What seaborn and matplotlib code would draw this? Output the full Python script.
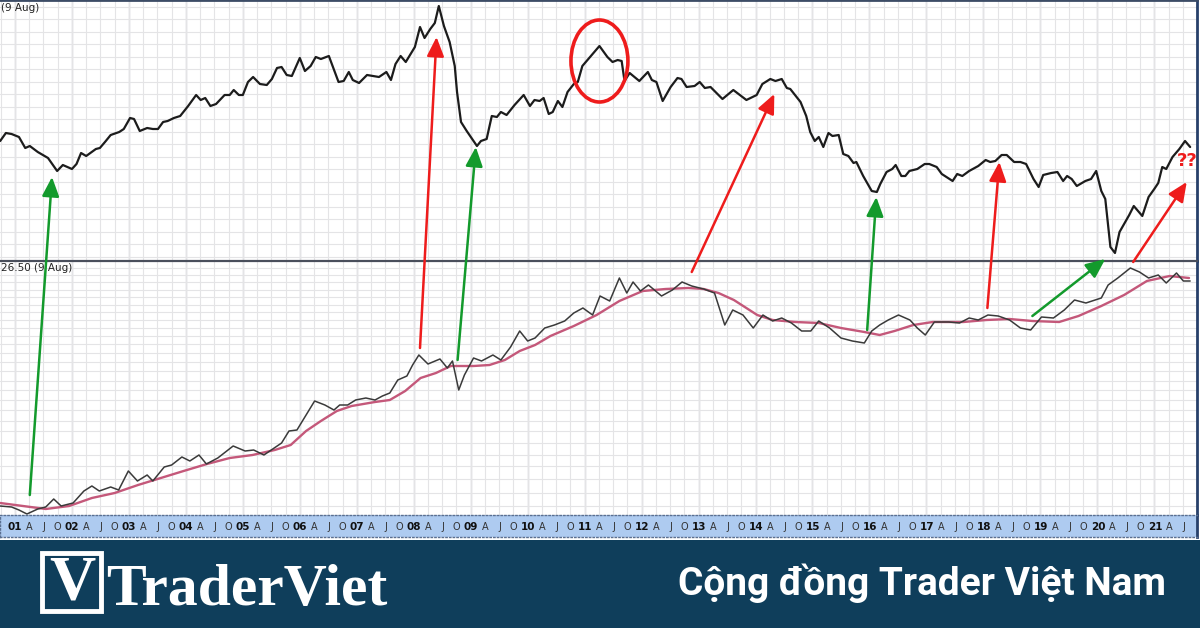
import matplotlib
matplotlib.use("Agg")
import matplotlib.pyplot as plt
import numpy as np
import pandas as pd
import seaborn as sns
from matplotlib.patches import ConnectionPatch, Ellipse, Rectangle

sns.set_theme(style="white")
plt.rcParams["font.family"] = ["DejaVu Sans"]

# top panel (ratio), chart height units
top_dates = [2000.74, 2000.84, 2000.94, 2001.07, 2001.18, 2001.26, 2001.40, 2001.58, 2001.74, 2001.84,
             2002.00, 2002.08, 2002.16, 2002.25, 2002.42, 2002.49, 2002.58, 2002.68, 2002.83, 2002.91,
             2003.02, 2003.09, 2003.19, 2003.32, 2003.42, 2003.51, 2003.60, 2003.68, 2003.79, 2003.90,
             2004.04, 2004.18, 2004.26, 2004.34, 2004.43, 2004.53, 2004.68, 2004.77, 2004.84, 2004.93,
             2005.00, 2005.09, 2005.18, 2005.30, 2005.42, 2005.51, 2005.60, 2005.68, 2005.77, 2005.86,
             2006.00, 2006.09, 2006.19, 2006.28, 2006.37, 2006.51, 2006.68, 2006.77, 2006.86, 2006.93,
             2007.04, 2007.18, 2007.28, 2007.39, 2007.52, 2007.60, 2007.68, 2007.77, 2007.86, 2008.02,
             2008.11, 2008.19, 2008.29, 2008.37, 2008.44, 2008.53, 2008.63, 2008.72, 2008.76, 2008.83,
             2008.93, 2009.11, 2009.18, 2009.28, 2009.37, 2009.46, 2009.53, 2009.63, 2009.77, 2009.93,
             2010.04, 2010.12, 2010.21, 2010.28, 2010.37, 2010.44, 2010.53, 2010.61, 2010.70, 2010.81,
             2010.88, 2010.96, 2011.11, 2011.26, 2011.40, 2011.49, 2011.58, 2011.65, 2011.70, 2011.79,
             2011.96, 2012.11, 2012.18, 2012.26, 2012.37, 2012.51, 2012.63, 2012.70, 2012.79, 2012.93,
             2013.02, 2013.11, 2013.21, 2013.42, 2013.61, 2013.84, 2014.02, 2014.12, 2014.26, 2014.35,
             2014.46, 2014.55, 2014.61, 2014.79, 2014.89, 2014.96, 2015.04, 2015.11, 2015.19, 2015.28,
             2015.35, 2015.46, 2015.54, 2015.63, 2015.72, 2015.77, 2015.89, 2016.04, 2016.13, 2016.19,
             2016.30, 2016.40, 2016.46, 2016.56, 2016.63, 2016.70, 2016.84, 2016.97, 2017.05, 2017.18,
             2017.27, 2017.46, 2017.54, 2017.63, 2017.75, 2017.91, 2018.04, 2018.12, 2018.21, 2018.32,
             2018.41, 2018.54, 2018.65, 2018.75, 2018.88, 2018.97, 2019.05, 2019.19, 2019.30, 2019.40,
             2019.47, 2019.55, 2019.64, 2019.79, 2019.89, 2019.98, 2020.07, 2020.14, 2020.23, 2020.31,
             2020.39, 2020.47, 2020.56, 2020.64, 2020.73, 2020.79, 2020.90, 2021.00, 2021.07, 2021.14,
             2021.21, 2021.32, 2021.44, 2021.54, 2021.63]
top_vals = [120, 128, 127, 124, 113, 115, 109, 103, 90, 96,
            92, 97, 108, 105, 112, 113, 119, 126, 129, 132,
            143, 142, 130, 133, 132, 132, 139, 140, 143, 145,
            155, 166, 161, 163, 155, 157, 166, 166, 171, 166,
            166, 179, 184, 177, 176, 182, 193, 194, 186, 185,
            203, 190, 195, 204, 202, 205, 179, 180, 189, 181,
            178, 186, 185, 184, 189, 181, 197, 205, 199, 214,
            234, 223, 232, 238, 255, 235, 219, 195, 169, 139,
            130, 115, 120, 122, 145, 144, 149, 146, 156, 166,
            155, 161, 160, 163, 147, 149, 160, 154, 169, 177,
            179, 195, 205, 215, 204, 199, 201, 200, 180, 188,
            180, 189, 181, 179, 160, 174, 183, 182, 174, 175,
            179, 173, 174, 162, 171, 161, 166, 177, 182, 180,
            182, 173, 172, 159, 145, 129, 120, 124, 114, 128,
            125, 126, 107, 105, 98, 99, 85, 70, 69, 77,
            89, 92, 96, 85, 85, 90, 92, 97, 97, 94,
            87, 80, 87, 85, 90, 95, 101, 99, 100, 106,
            106, 99, 99, 97, 82, 74, 86, 88, 89, 80,
            85, 82, 75, 80, 82, 90, 70, 62, 14, 8,
            29, 37, 46, 55, 49, 45, 64, 72, 78, 94,
            92, 104, 112, 120, 114]

# bottom panel (price) and its moving average
bot_dates = [2000.74, 2000.94, 2001.07, 2001.21, 2001.40, 2001.54, 2001.68, 2001.81, 2002.02, 2002.21,
             2002.35, 2002.48, 2002.68, 2002.82, 2002.99, 2003.15, 2003.32, 2003.42, 2003.62, 2003.75,
             2003.93, 2004.07, 2004.23, 2004.36, 2004.56, 2004.83, 2005.04, 2005.19, 2005.37, 2005.50,
             2005.68, 2005.81, 2005.95, 2006.11, 2006.26, 2006.44, 2006.60, 2006.70, 2006.84, 2006.98,
             2007.16, 2007.32, 2007.45, 2007.58, 2007.72, 2007.88, 2007.98, 2008.09, 2008.25, 2008.46,
             2008.59, 2008.68, 2008.79, 2008.89, 2009.05, 2009.19, 2009.39, 2009.53, 2009.70, 2009.86,
             2010.00, 2010.13, 2010.30, 2010.47, 2010.65, 2010.81, 2010.97, 2011.14, 2011.27, 2011.44,
             2011.61, 2011.74, 2011.85, 2011.98, 2012.12, 2012.35, 2012.54, 2012.71, 2012.88, 2013.09,
             2013.28, 2013.46, 2013.60, 2013.78, 2013.96, 2014.13, 2014.30, 2014.46, 2014.63, 2014.81,
             2014.97, 2015.11, 2015.30, 2015.50, 2015.70, 2015.91, 2016.04, 2016.18, 2016.33, 2016.51,
             2016.71, 2016.84, 2016.98, 2017.14, 2017.39, 2017.58, 2017.75, 2017.91, 2018.08, 2018.26,
             2018.46, 2018.65, 2018.83, 2019.02, 2019.23, 2019.42, 2019.60, 2019.80, 2020.07, 2020.19,
             2020.36, 2020.58, 2020.74, 2020.90, 2021.07, 2021.21, 2021.39, 2021.51, 2021.63]
bot_vals = [9, 8, 5, 1, 6, 8, 16, 9, 12, 24,
            29, 24, 28, 25, 44, 34, 40, 34, 48, 50,
            58, 54, 60, 51, 57, 69, 64, 65, 60, 65,
            72, 84, 85, 100, 114, 110, 105, 110, 110, 115,
            117, 115, 119, 122, 135, 139, 150, 160, 151, 156,
            147, 154, 125, 140, 157, 154, 160, 155, 168, 184,
            174, 177, 187, 190, 194, 202, 207, 200, 219, 214,
            237, 222, 233, 224, 230, 219, 225, 233, 229, 226,
            222, 190, 205, 200, 187, 200, 194, 197, 192, 184,
            184, 194, 187, 177, 174, 172, 184, 190, 195, 200,
            195, 187, 180, 193, 193, 192, 197, 195, 200, 199,
            195, 187, 185, 198, 197, 205, 215, 212, 217, 230,
            237, 247, 243, 237, 240, 232, 242, 234, 234]
ma_dates = [2000.74, 2001.14, 2001.54, 2001.95, 2002.35, 2002.75, 2003.16, 2003.56, 2003.96, 2004.37,
            2004.77, 2005.17, 2005.56, 2005.84, 2006.11, 2006.37, 2006.65, 2006.91, 2007.32, 2007.58,
            2007.85, 2008.12, 2008.39, 2008.65, 2009.05, 2009.33, 2009.60, 2009.86, 2010.13, 2010.40,
            2010.81, 2011.21, 2011.61, 2012.02, 2012.42, 2012.82, 2013.09, 2013.35, 2013.62, 2014.03,
            2014.30, 2014.70, 2015.11, 2015.50, 2015.91, 2016.18, 2016.44, 2016.77, 2017.11, 2017.65,
            2018.05, 2018.46, 2018.86, 2019.33, 2019.67, 2020.07, 2020.47, 2020.87, 2021.27, 2021.61]
ma_vals = [12, 9, 6, 9, 17, 22, 30, 37, 44, 51,
           57, 60, 65, 70, 84, 94, 104, 109, 113, 115,
           124, 137, 142, 149, 149, 150, 155, 164, 170, 179,
           189, 200, 214, 224, 226, 227, 226, 222, 215, 200,
           195, 193, 192, 187, 183, 180, 184, 190, 193, 193,
           195, 196, 194, 193, 199, 209, 220, 234, 239, 237]

# arrows: (start date, start value, start panel, end date, end value, end panel, colour)
arrows = [
    (2001.26, 20, "bot", 2001.65, 84, "top", "g"),
    (2008.11, 167, "bot", 2008.40, 224, "top", "r"),
    (2008.77, 155, "bot", 2009.09, 114, "top", "g"),
    (2012.88, 243, "bot", 2014.33, 167, "top", "r"),
    (2015.96, 185, "bot", 2016.12, 64, "top", "g"),
    (2018.07, 207, "bot", 2018.28, 99, "top", "r"),
    (2018.86, 199, "bot", 2020.14, 256, "bot", "g"),
    (2020.63, 253, "bot", 2021.57, 79, "top", "r"),
]
years = list(range(2001, 2022))

RED = "#ee1c1c"
GREEN = "#139a2c"

fig = plt.figure(figsize=(12, 6.28), dpi=100)
fig.patch.set_facecolor("white")
W, H = 1200, 628
x0, x1 = 2000.737, 2021.737

ax_top = fig.add_axes([0, (H - 261) / H, 1197 / W, 261 / H])
ax_bot = fig.add_axes([0, (H - 515) / H, 1197 / W, 254 / H])
ax_band = fig.add_axes([0, (H - 537) / H, 1197 / W, 22 / H])
ax_ban = fig.add_axes([0, 0, 1, 88 / H])

quarters = np.arange(2000.75, 2021.76, 0.25)

for ax, ylim in [(ax_top, (0, 261)), (ax_bot, (0, 254))]:
    ax.set_xlim(x0, x1)
    ax.set_ylim(*ylim)
    ax.set_xticks(quarters)
    ax.tick_params(length=0, labelbottom=False, labelleft=False)
    ax.grid(True, color="#e4e4e6", lw=0.8)
    for yr in years:
        ax.axvline(yr, color="#c2c5cc", lw=1.0, zorder=0.5)
    for s in ax.spines.values():
        s.set_visible(False)

ax_top.set_yticks(np.arange(4.5, 261, 12.5))
ax_bot.set_yticks([9, 22, 36, 49, 60, 72, 84, 94, 105, 115, 125, 134, 144, 153, 162,
                   171, 179, 187, 195, 203, 210, 218, 225, 233, 240, 247])
ax_top.spines["top"].set_visible(True)
ax_top.spines["top"].set_color("#3c4c66")
ax_top.spines["top"].set_linewidth(2)
ax_bot.spines["top"].set_visible(True)
ax_bot.spines["top"].set_color("#4a4f5c")
ax_bot.spines["top"].set_linewidth(1.6)
for ax in (ax_top, ax_bot, ax_band):
    ax.spines["right"].set_visible(True)
    ax.spines["right"].set_color("#27406a")
    ax.spines["right"].set_linewidth(2)

top_df = pd.DataFrame({"date": top_dates, "value": top_vals})
bot_df = pd.DataFrame({"date": bot_dates, "value": bot_vals})
ma_df = pd.DataFrame({"date": ma_dates, "value": ma_vals})
sns.lineplot(data=top_df, x="date", y="value", ax=ax_top, color="#1c1c1c", lw=1.6)
sns.lineplot(data=ma_df, x="date", y="value", ax=ax_bot, color="#c4587a", lw=1.7)
sns.lineplot(data=bot_df, x="date", y="value", ax=ax_bot, color="#3a3a3a", lw=1.1)
for ax in (ax_top, ax_bot):
    ax.set_xlabel("")
    ax.set_ylabel("")

fig.text(1 / W, 1 - 8 / H, "(9 Aug)", ha="left", va="center", fontsize=7.5, color="#222")
fig.text(1 / W, 1 - 268 / H, "26.50 (9 Aug)", ha="left", va="center", fontsize=7.5, color="#222")

# annotations
panels = {"top": ax_top, "bot": ax_bot}
for d0, v0, p0, d1, v1, p1, c in arrows:
    col = RED if c == "r" else GREEN
    con = ConnectionPatch(xyA=(d0, v0), coordsA=panels[p0].transData,
                          xyB=(d1, v1), coordsB=panels[p1].transData,
                          arrowstyle="-|>,head_length=0.9,head_width=0.4",
                          mutation_scale=13, color=col, lw=1.8, shrinkA=0, shrinkB=0, zorder=5)
    fig.add_artist(con)

ax_top.add_patch(Ellipse((2011.26, 200), width=1.0, height=82, fill=False, ec=RED, lw=2.6, zorder=6))
ax_top.text(2021.57, 100, "??", color=RED, fontsize=13, fontweight="bold",
            ha="center", va="center", zorder=6)

# date band
ax_band.set_xlim(x0, x1)
ax_band.set_ylim(0, 1)
ax_band.set_facecolor("#aecbf0")
ax_band.set_xticks([])
ax_band.set_yticks([])
for s in ("top", "bottom", "left"):
    ax_band.spines[s].set_color("#5a6f90")
    ax_band.spines[s].set_linestyle(":")
    ax_band.spines[s].set_linewidth(1)
for q in quarters[1:-1]:
    frac = round(q % 1, 2)
    if frac == 0:
        ax_band.text(q, 0.47, f"{int(round(q)) % 100:02d}", ha="center", va="center",
                     fontsize=7.5, fontweight="bold", color="#111")
    else:
        lab = {0.25: "A", 0.5: "J", 0.75: "O"}[frac]
        ax_band.text(q, 0.47, lab, ha="center", va="center", fontsize=7, color="#333")

# banner
ax_ban.set_xlim(0, W)
ax_ban.set_ylim(0, 88)
ax_ban.set_facecolor("#0f3e5b")
ax_ban.set_xticks([])
ax_ban.set_yticks([])
for s in ax_ban.spines.values():
    s.set_visible(False)
ax_ban.add_patch(Rectangle((42, 17), 59, 58, fill=False, ec="white", lw=3.5))
ax_ban.text(72, 44, "V", color="white", fontsize=46, fontweight="bold",
            family="Liberation Serif", ha="center", va="center")
ax_ban.text(106, 23, "TraderViet", color="white", fontsize=43, fontweight="bold",
            family="Liberation Serif", ha="left", va="baseline")
ax_ban.text(1166, 33, "Cộng đồng Trader Việt Nam", color="white", fontsize=28,
            fontweight="bold", family=["Roboto", "DejaVu Sans"], ha="right", va="baseline")

fig.savefig("out.png", dpi=100)
